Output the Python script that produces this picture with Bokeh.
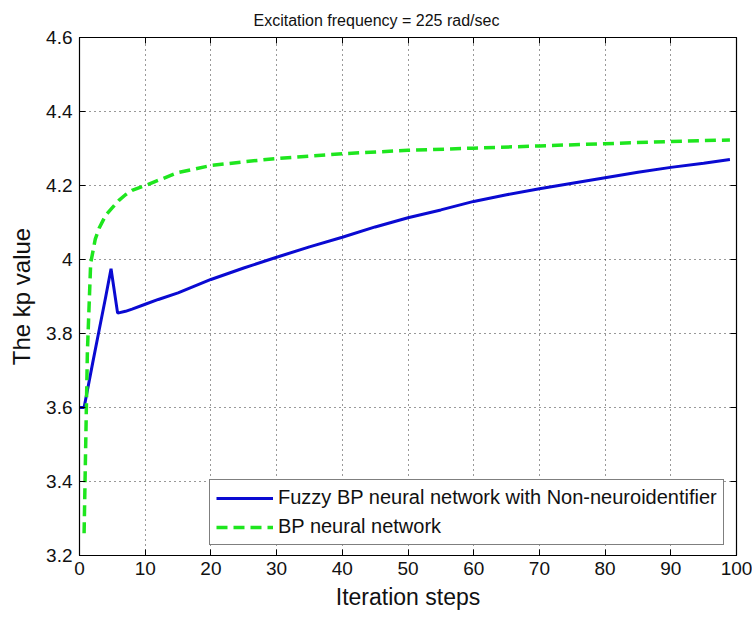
from bokeh.plotting import figure
from bokeh.models import LinearAxis, FixedTicker, Range1d, Legend, LegendItem
from bokeh.embed import file_html
from bokeh.resources import INLINE

# Fuzzy BP network with non-neuroidentifier: kp estimate per iteration
fuzzy_steps = [0, 0.7, 2, 3, 4, 4.8, 5.8, 7, 8, 10, 12, 15, 20, 25, 30, 35, 40,
               45, 50, 55, 60, 65, 70, 75, 80, 85, 90, 95, 99]
fuzzy_kp = [3.60, 3.60, 3.72, 3.81, 3.90, 3.975, 3.855, 3.860, 3.866, 3.879,
            3.892, 3.910, 3.946, 3.977, 4.006, 4.034, 4.060, 4.088, 4.113,
            4.134, 4.157, 4.175, 4.191, 4.206, 4.221, 4.236, 4.249, 4.260, 4.270]

# Plain BP network: kp estimate per iteration
bp_steps = [0.7, 1.2, 1.7, 2.4, 3, 4, 5, 6, 7, 8, 10, 12, 15, 20, 25, 30, 40,
            50, 60, 70, 80, 90, 99]
bp_kp = [3.26, 3.75, 3.99, 4.055, 4.085, 4.12, 4.14, 4.16, 4.175, 4.187, 4.200,
         4.214, 4.235, 4.254, 4.264, 4.273, 4.286, 4.295, 4.301, 4.307, 4.313,
         4.319, 4.323]

x_ticks = [0, 10, 20, 30, 40, 50, 60, 70, 80, 90, 100]
y_ticks = [3.2, 3.4, 3.6, 3.8, 4.0, 4.2, 4.4, 4.6]
y_tick_labels = ["3.2", "3.4", "3.6", "3.8", "4", "4.2", "4.4", "4.6"]

FONT = "Liberation Sans"

p = figure(width=752, height=617, output_backend="svg", toolbar_location=None,
           x_range=Range1d(0, 100), y_range=Range1d(3.2, 4.6),
           min_border_left=79, min_border_right=16, min_border_top=37,
           min_border_bottom=62, background_fill_color="white",
           border_fill_color="white", outline_line_color="black",
           outline_line_width=1.2)

p.title.text = "Excitation frequency = 225 rad/sec"
p.title.text_font = FONT
p.title.text_font_size = "16px"
p.title.text_font_style = "normal"
p.title.text_color = "#111111"
p.title.align = "left"
p.title.offset = 174
p.title.standoff = 18

# Bottom / left axes with inward ticks
for ax in (p.xaxis[0], p.yaxis[0]):
    ax.major_tick_in = 6
    ax.major_tick_out = 0
    ax.minor_tick_line_color = None
    ax.axis_line_color = "black"
    ax.major_tick_line_color = "black"
    ax.major_label_text_font = FONT
    ax.major_label_text_font_size = "19px"
    ax.major_label_text_color = "#111111"
    ax.axis_label_text_font = FONT
    ax.axis_label_text_font_style = "normal"
    ax.axis_label_text_color = "#111111"

p.xaxis[0].ticker = FixedTicker(ticks=x_ticks)
p.yaxis[0].ticker = FixedTicker(ticks=y_ticks)
p.yaxis[0].major_label_overrides = {t: s for t, s in zip(y_ticks, y_tick_labels)}
p.xaxis[0].major_label_standoff = 6
p.yaxis[0].major_label_standoff = 7
p.xaxis[0].axis_label = "Iteration steps"
p.yaxis[0].axis_label = "The kp value"
p.xaxis[0].axis_label_text_font_size = "23px"
p.yaxis[0].axis_label_text_font_size = "24px"
p.xaxis[0].axis_label_standoff = 6
p.yaxis[0].axis_label_standoff = 8

# Box ticks on top and right (no labels)
top_axis = LinearAxis(ticker=FixedTicker(ticks=x_ticks), major_tick_in=6,
                      major_tick_out=0, minor_tick_line_color=None,
                      major_label_overrides={t: "" for t in x_ticks},
                      major_label_standoff=0, axis_line_color="black")
right_axis = LinearAxis(ticker=FixedTicker(ticks=y_ticks), major_tick_in=6,
                        major_tick_out=0, minor_tick_line_color=None,
                        major_label_overrides={t: "" for t in y_ticks},
                        major_label_standoff=0, axis_line_color="black")
p.add_layout(top_axis, "above")
p.add_layout(right_axis, "right")

# Dotted grid
for g in (p.xgrid[0], p.ygrid[0]):
    g.grid_line_color = "black"
    g.grid_line_alpha = 0.8
    g.grid_line_dash = "1 4"
    g.grid_line_width = 1
p.xgrid[0].ticker = FixedTicker(ticks=x_ticks)
p.ygrid[0].ticker = FixedTicker(ticks=y_ticks)

r_fuzzy = p.line(fuzzy_steps, fuzzy_kp, line_color="#0a0ad2", line_width=3)
r_bp = p.line(bp_steps, bp_kp, line_color="#1ee61e", line_width=3.5,
              line_dash="11 6")

legend = Legend(items=[
    LegendItem(label="Fuzzy BP neural network with Non-neuroidentifier",
               renderers=[r_fuzzy]),
    LegendItem(label="BP neural network", renderers=[r_bp]),
], location=(130, 10))
legend.label_text_font = FONT
legend.label_text_font_size = "20px"
legend.label_text_color = "#111111"
legend.glyph_width = 57
legend.glyph_height = 22
legend.label_height = 22
legend.label_standoff = 5
legend.spacing = 6
legend.padding = 6
legend.margin = 0
legend.border_line_color = "black"
legend.border_line_width = 1.2
legend.background_fill_color = "white"
legend.background_fill_alpha = 1
p.add_layout(legend, "center")

open("out.html", "w").write(file_html(p, INLINE))
